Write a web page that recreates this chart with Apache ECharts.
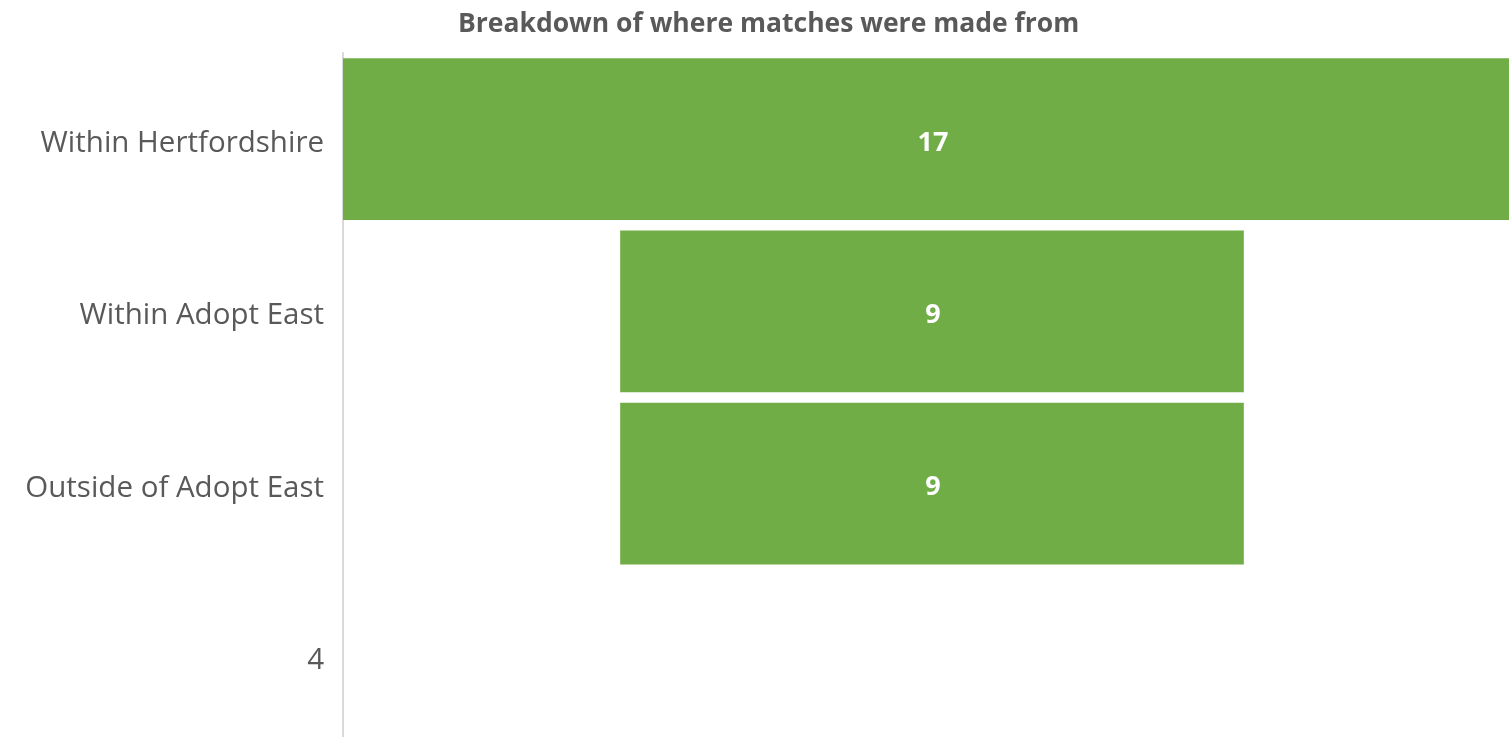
<!DOCTYPE html>
<html>
<head>
<meta charset="utf-8">
<script src="https://cdn.jsdelivr.net/npm/echarts@6/dist/echarts.min.js"></script>
<style>
  html, body { margin: 0; padding: 0; background: #fff; }
  #chart { width: 1509px; height: 737px; }
</style>
</head>
<body>
<div id="chart"></div>
<script>
// Funnel drawn as stacked bars: an invisible offset bar pushes each bar to the centre
const categories = ['Within Hertfordshire', 'Within Adopt East', 'Outside of Adopt East', '4'];
const offsets = [0, 4, 4, null];
const values = [17, 9, 9, null];

const chart = echarts.init(document.getElementById('chart'));

const option = {
    backgroundColor: '#ffffff',
    animation: false,
    title: {
        text: 'Breakdown of where matches were made from',
        left: 453,
        top: 6,
        textStyle: {
            fontFamily: 'Open Sans',
            fontWeight: 'bold',
            fontSize: 26.5,
            color: '#595959'
        }
    },
    grid: {
        left: 343,
        top: 53,
        width: 1178,
        height: 689,
        outerBoundsMode: 'none'
    },
    xAxis: {
        type: 'value',
        min: 0,
        max: 17,
        show: false
    },
    yAxis: {
        type: 'category',
        inverse: true,
        data: categories,
        axisLine: { show: true, lineStyle: { color: '#d9d9d9', width: 2 } },
        axisTick: { show: false },
        axisLabel: {
            margin: 19,
            formatter: (v) => '{lbl|' + v + '}',
            rich: {
                lbl: {
                    fontFamily: 'Open Sans',
                    fontSize: 29.5,
                    color: '#595959',
                    padding: [9, 0, 0, 0]
                }
            }
        }
    },
    series: [
        {
            name: 'offset',
            type: 'bar',
            stack: 'funnel',
            data: offsets,
            itemStyle: { color: 'transparent' },
            barCategoryGap: '6%',
            silent: true
        },
        {
            name: 'Matches',
            type: 'bar',
            stack: 'funnel',
            data: values,
            barCategoryGap: '6%',
            itemStyle: { color: '#70ad47' },
            label: {
                show: true,
                position: 'inside',
                offset: [1, 4],
                fontFamily: 'Open Sans',
                fontWeight: 'bold',
                fontSize: 27,
                color: '#ffffff'
            }
        }
    ]
};

chart.setOption(option);
</script>
</body>
</html>
